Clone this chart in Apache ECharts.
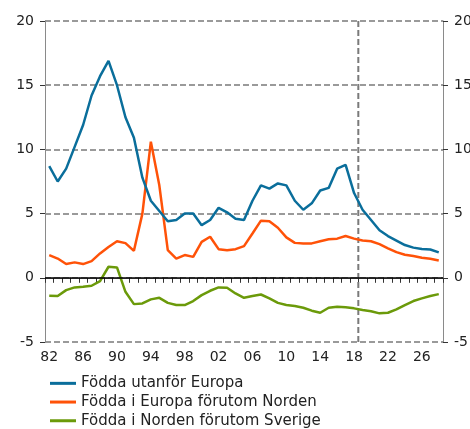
<!DOCTYPE html>
<html>
<head>
<meta charset="utf-8">
<script src="https://cdn.jsdelivr.net/npm/echarts@6/dist/echarts.min.js"></script>
<style>
  html, body { margin: 0; padding: 0; background: #fff; }
  #chart { width: 470px; height: 429px; }
</style>
</head>
<body>
<div id="chart"></div>
<script>
// år 1982-2028
var years = [];
for (var y = 1982; y <= 2028; y++) { years.push(y); }

var utanforEuropa = [8.7, 7.5, 8.5, 10.2, 11.9, 14.2, 15.7, 16.9, 15.0, 12.5,
    10.9, 7.8, 6.0, 5.2, 4.4, 4.5, 5.0, 5.0, 4.1, 4.5,
    5.45, 5.1, 4.6, 4.5, 6.0, 7.2, 6.95, 7.35, 7.2, 6.0,
    5.3, 5.8, 6.8, 7.0, 8.5, 8.8, 6.6, 5.3, 4.5, 3.7,
    3.25, 2.9, 2.55, 2.35, 2.25, 2.2, 1.98];
var europaUtomNorden = [1.77, 1.5, 1.07, 1.2, 1.07, 1.3, 1.9, 2.4, 2.85, 2.7,
    2.1, 5.0, 10.6, 7.2, 2.15, 1.5, 1.77, 1.63, 2.8, 3.2,
    2.23, 2.15, 2.23, 2.47, 3.45, 4.45, 4.4, 3.9, 3.15, 2.72,
    2.68, 2.68, 2.85, 3.0, 3.05, 3.25, 3.05, 2.9, 2.85, 2.62,
    2.3, 2.0, 1.8, 1.69, 1.56, 1.48, 1.35];
var nordenUtomSverige = [-1.4, -1.42, -0.96, -0.75, -0.7, -0.62, -0.26, 0.86, 0.81, -1.09,
    -2.05, -2.0, -1.68, -1.56, -1.95, -2.12, -2.12, -1.81, -1.35, -1.01,
    -0.75, -0.78, -1.22, -1.56, -1.42, -1.3, -1.6, -1.95, -2.12, -2.2,
    -2.33, -2.56, -2.72, -2.33, -2.25, -2.3, -2.38, -2.51, -2.6, -2.77,
    -2.72, -2.46, -2.12, -1.81, -1.6, -1.42, -1.27];

var prognosStart = 2018; // streckad linje efter detta år

var font = 'DejaVu Sans';
var axisGray = '#8a8a8a';

var e = echarts.init(document.getElementById('chart'));

var yAxisBase = {
    type: 'value',
    min: -5,
    max: 20,
    interval: 5,
    axisLine: { show: true, lineStyle: { color: axisGray, width: 1 } },
    axisTick: { show: true, length: 5, lineStyle: { color: '#333', width: 1 } },
    axisLabel: { color: '#222', fontSize: 14, fontFamily: font, margin: 11 }
};

var option = {
    animation: false,
    grid: { left: 45, right: 27, top: 21, bottom: 87, containLabel: false, outerBoundsMode: 'none' },
    legend: {
        orient: 'vertical',
        left: 50,
        top: 374,
        height: 80,
        padding: 0,
        itemGap: 0,
        itemWidth: 26,
        itemHeight: 3,
        icon: 'rect',
        data: ['Födda utanför Europa', 'Födda i Europa förutom Norden', 'Födda i Norden förutom Sverige'],
        textStyle: { color: '#222', fontSize: 15, fontFamily: font, lineHeight: 18.7 }
    },
    xAxis: [
        {
            type: 'category',
            data: years,
            boundaryGap: true,
            axisLine: { show: true, lineStyle: { color: axisGray, width: 1 } },
            axisTick: { show: true, interval: 0, length: 5, lineStyle: { color: '#333', width: 1 } },
            axisLabel: {
                interval: 3,
                color: '#222',
                fontSize: 14,
                fontFamily: font,
                margin: 8,
                formatter: function (v) { return String(v).slice(2); }
            },
            splitLine: { show: false }
        },
        {
            // hjälpaxel för den vertikala linjen
            type: 'value',
            min: 0,
            max: years.length,
            show: false
        }
    ],
    yAxis: [
        Object.assign({}, yAxisBase, {
            position: 'left',
            splitLine: { show: true, lineStyle: { color: '#7a7a7a', type: [6, 3], width: 1.5 } }
        }),
        Object.assign({}, yAxisBase, {
            position: 'right',
            splitLine: { show: false }
        })
    ],
    series: [
        {
            name: 'Födda utanför Europa',
            type: 'line',
            data: utanforEuropa,
            symbol: 'none',
            itemStyle: { color: '#0a6e9b' },
            lineStyle: { color: '#0a6e9b', width: 2.5 },
            z: 5
        },
        {
            name: 'Födda i Europa förutom Norden',
            type: 'line',
            data: europaUtomNorden,
            symbol: 'none',
            itemStyle: { color: '#ff5208' },
            lineStyle: { color: '#ff5208', width: 2.5 },
            z: 4
        },
        {
            name: 'Födda i Norden förutom Sverige',
            type: 'line',
            data: nordenUtomSverige,
            symbol: 'none',
            itemStyle: { color: '#6b9a0a' },
            lineStyle: { color: '#6b9a0a', width: 2.5 },
            z: 4,
            markLine: {
                silent: true,
                symbol: 'none',
                label: { show: false },
                lineStyle: { color: '#000', type: 'solid', width: 1.5 },
                data: [{ yAxis: 0 }]
            }
        },
        {
            name: 'prognos',
            type: 'line',
            xAxisIndex: 1,
            data: [[years.indexOf(prognosStart) + 1, -5], [years.indexOf(prognosStart) + 1, 20]],
            symbol: 'none',
            silent: true,
            lineStyle: { color: '#7a7a7a', type: [6, 3], width: 2 },
            z: 2
        }
    ]
};
e.setOption(option);
</script>
</body>
</html>
